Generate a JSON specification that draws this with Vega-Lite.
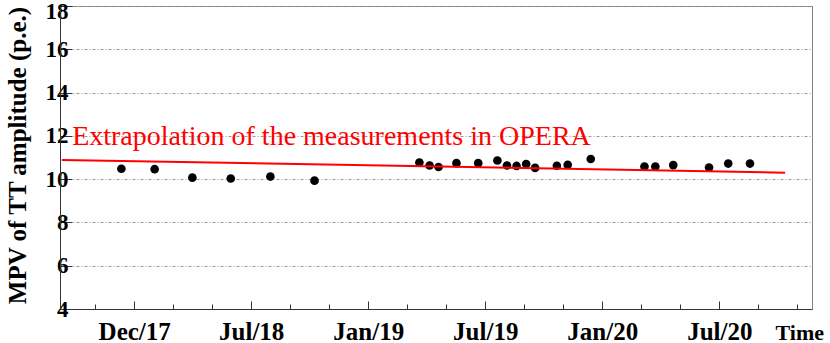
{
  "$schema": "https://vega.github.io/schema/vega-lite/v6.json",
  "width": 752,
  "height": 303,
  "autosize": {"type": "none"},
  "padding": {"left": 60, "top": 6, "right": 18, "bottom": 34},
  "background": "white",
  "config": {"view": {"stroke": "#808080", "strokeWidth": 1}, "font": "Liberation Serif"},
  "datasets": {
    "points": [
      {"date": "2017-12-11", "mpv": 10.48},
      {"date": "2018-02-01", "mpv": 10.46},
      {"date": "2018-04-01", "mpv": 10.07},
      {"date": "2018-05-31", "mpv": 10.03},
      {"date": "2018-08-01", "mpv": 10.12},
      {"date": "2018-10-09", "mpv": 9.93},
      {"date": "2019-03-22", "mpv": 10.77},
      {"date": "2019-04-07", "mpv": 10.63},
      {"date": "2019-04-21", "mpv": 10.56},
      {"date": "2019-05-19", "mpv": 10.74},
      {"date": "2019-06-22", "mpv": 10.74},
      {"date": "2019-07-22", "mpv": 10.86},
      {"date": "2019-08-06", "mpv": 10.63},
      {"date": "2019-08-21", "mpv": 10.61},
      {"date": "2019-09-05", "mpv": 10.70},
      {"date": "2019-09-19", "mpv": 10.52},
      {"date": "2019-10-23", "mpv": 10.62},
      {"date": "2019-11-09", "mpv": 10.66},
      {"date": "2019-12-15", "mpv": 10.93},
      {"date": "2020-03-08", "mpv": 10.58},
      {"date": "2020-03-25", "mpv": 10.58},
      {"date": "2020-04-22", "mpv": 10.65},
      {"date": "2020-06-17", "mpv": 10.54},
      {"date": "2020-07-17", "mpv": 10.72},
      {"date": "2020-08-20", "mpv": 10.72}
    ],
    "fit": [
      {"date": "2017-09-09", "mpv": 10.89},
      {"date": "2020-10-14", "mpv": 10.30}
    ],
    "note": [
      {"date": "2017-09-25", "mpv": 11.58, "label": "Extrapolation of the measurements in OPERA"}
    ]
  },
  "layer": [
    {
      "data": {"name": "points"},
      "mark": {"type": "point", "filled": true, "shape": "circle", "size": 75, "color": "black", "opacity": 1},
      "encoding": {
        "x": {
          "field": "date", "type": "temporal",
          "scale": {"type": "utc", "domain": [
            {"year": 2017, "month": 9, "date": 6, "utc": true},
            {"year": 2020, "month": 11, "date": 25, "utc": true}
          ]},
          "axis": {
            "title": "Time",
            "values": [
              {"year": 2017, "month": 10, "date": 31, "utc": true},
              {"year": 2017, "month": 12, "date": 31, "utc": true},
              {"year": 2018, "month": 3, "date": 2, "utc": true},
              {"year": 2018, "month": 5, "date": 2, "utc": true},
              {"year": 2018, "month": 7, "date": 2, "utc": true},
              {"year": 2018, "month": 9, "date": 1, "utc": true},
              {"year": 2018, "month": 11, "date": 1, "utc": true},
              {"year": 2019, "month": 1, "date": 1, "utc": true},
              {"year": 2019, "month": 3, "date": 3, "utc": true},
              {"year": 2019, "month": 5, "date": 3, "utc": true},
              {"year": 2019, "month": 7, "date": 3, "utc": true},
              {"year": 2019, "month": 9, "date": 2, "utc": true},
              {"year": 2019, "month": 11, "date": 2, "utc": true},
              {"year": 2020, "month": 1, "date": 2, "utc": true},
              {"year": 2020, "month": 3, "date": 3, "utc": true},
              {"year": 2020, "month": 5, "date": 3, "utc": true},
              {"year": 2020, "month": 7, "date": 3, "utc": true},
              {"year": 2020, "month": 9, "date": 2, "utc": true},
              {"year": 2020, "month": 11, "date": 2, "utc": true}
            ],
            "labelExpr": "(utcmonth(datum.value) == 0 || utcmonth(datum.value) == 6 || utcmonth(datum.value) == 11) ? utcFormat(datum.value, '%b/%y') : ''",
            "grid": false,
            "domainColor": "#333333",
            "tickColor": "#333333",
            "tickSize": {"condition": {"test": "utcmonth(datum.value) == 0 || utcmonth(datum.value) == 6 || utcmonth(datum.value) == 11", "value": -8}, "value": -5},
            "labelFont": "Liberation Serif",
            "labelFontWeight": "bold",
            "labelFontSize": 25,
            "labelColor": "black",
            "labelBaseline": "alphabetic",
            "labelPadding": 38,
            "labelOverlap": false,
            "labelFlush": false,
            "titleFont": "Liberation Serif",
            "titleFontWeight": "bold",
            "titleFontSize": 22,
            "titleColor": "black",
            "titleAlign": "left",
            "titleAnchor": null,
            "titleBaseline": "alphabetic",
            "titleX": 715,
            "titleY": 30
          }
        },
        "y": {
          "field": "mpv", "type": "quantitative",
          "scale": {"domain": [4, 18], "nice": false, "zero": false},
          "axis": {
            "title": "MPV of TT amplitude (p.e.)",
            "values": [4, 4.5, 5, 5.5, 6, 6.5, 7, 7.5, 8, 8.5, 9, 9.5, 10, 10.5, 11, 11.5, 12, 12.5, 13, 13.5, 14, 14.5, 15, 15.5, 16, 16.5, 17, 17.5, 18],
            "labelExpr": "datum.value % 2 == 0 ? datum.label : ''",
            "grid": true,
            "gridColor": "#999999",
            "gridDash": [3, 2, 1, 2],
            "gridOpacity": {"condition": {"test": "datum.value % 2 == 0", "value": 1}, "value": 0},
            "domainColor": "#333333",
            "tickColor": "#333333",
            "tickSize": {"condition": {"test": "datum.value % 2 == 0", "value": -12}, "value": -7},
            "labelFont": "Liberation Serif",
            "labelFontWeight": "bold",
            "labelFontSize": 23,
            "labelColor": "black",
            "labelBaseline": "middle",
            "labelOffset": {"condition": {"test": "datum.value == 18", "value": 5}, "value": 0},
            "labelPadding": 4,
            "labelOverlap": false,
            "labelFlush": false,
            "titleFont": "Liberation Serif",
            "titleFontWeight": "bold",
            "titleFontSize": 25,
            "titleColor": "black",
            "titleAngle": -90,
            "titleAlign": "center",
            "titleAnchor": null,
            "titleBaseline": "middle",
            "titleX": -43,
            "titleY": 149
          }
        }
      }
    },
    {
      "data": {"name": "fit"},
      "mark": {"type": "line", "color": "#ff0000", "strokeWidth": 2},
      "encoding": {
        "x": {"field": "date", "type": "temporal"},
        "y": {"field": "mpv", "type": "quantitative"}
      }
    },
    {
      "data": {"name": "note"},
      "mark": {"type": "text", "font": "Liberation Serif", "fontSize": 28, "color": "#ff0000", "align": "left", "baseline": "alphabetic"},
      "encoding": {
        "x": {"field": "date", "type": "temporal"},
        "y": {"field": "mpv", "type": "quantitative"},
        "text": {"field": "label"}
      }
    }
  ]
}
